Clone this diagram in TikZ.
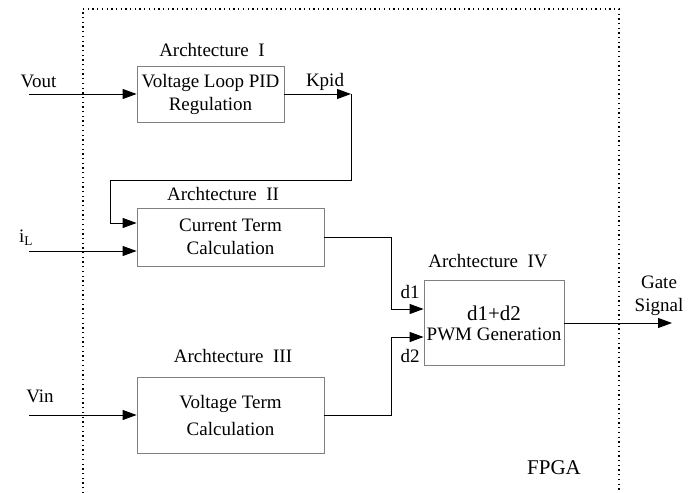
\documentclass[tikz,border=0pt]{standalone}
\usepackage{fontspec}
\setmainfont{Liberation Serif}
\usetikzlibrary{arrows.meta}
\begin{document}
\begin{tikzpicture}[x=1pt,y=-1pt,
  blk/.style={draw=black!50, line width=0.8pt, inner sep=0pt, align=center, font=\fontsize{19}{23}\selectfont},
  lbl/.style={inner sep=0pt, align=center, font=\fontsize{19}{22}\selectfont},
  arr/.style={-{Triangle[length=14pt,width=10pt]}, line width=1pt},
  frame/.style={dash pattern=on 1.3pt off 3.4pt, line width=1.3pt}]
\useasboundingbox (0,0) rectangle (697,493);
% frame
\coordinate (fbl) at (83,493);
\coordinate (ftl) at (83,9);
\coordinate (ftr) at (619,9);
\coordinate (fbr) at (619,493);
\draw[frame] (fbl) -- (ftl) -- (ftr) -- (fbr);
% blocks
\node[blk, minimum width=147pt, minimum height=56pt] (b1) at (210.5,94) {Voltage Loop PID\\Regulation};
\node[blk, minimum width=187pt, minimum height=58pt] (b2) at (230.5,237) {Current Term\\Calculation};
\node[blk, minimum width=187pt, minimum height=76pt, font=\fontsize{19}{27}\selectfont] (b3) at (230.5,415) {Voltage Term\\Calculation};
\node[blk, minimum width=140pt, minimum height=85pt] (b4) at (494,322.5) {};
\node[lbl, font=\fontsize{21}{22}\selectfont] (t4a) at (494,313) {d1+d2};
\node[lbl] (t4b) at (494,334) {PWM Generation};
% titles
\node[lbl] (a1) at (212,50) {Archtecture\enspace I};
\node[lbl] (a2) at (223,194) {Archtecture\enspace II};
\node[lbl] (a3) at (233,356) {Archtecture\enspace III};
\node[lbl] (a4) at (488,261) {Archtecture\enspace IV};
% labels
\node[lbl] (lv) at (38.5,81) {Vout};
\node[lbl] (lk) at (325,82) {Kpid};
\node[lbl] (li) at (26,238) {i\textsubscript{L}};
\node[lbl] (lvin) at (40,396) {Vin};
\node[lbl] (ld1) at (410,292) {d1};
\node[lbl] (ld2) at (410,356) {d2};
\node[lbl, font=\fontsize{19}{23}\selectfont] (lg) at (659,296) {Gate\\Signal};
\node[lbl, font=\fontsize{21}{22}\selectfont] (lf) at (554,468) {FPGA};
% inputs
\coordinate (vin1) at (29,94);
\coordinate (iin) at (29,251);
\coordinate (vin3) at (29,415);
\draw[arr] (vin1) -- (b1.west |- vin1);
\draw[arr] (iin) -- (b2.west |- iin);
\draw[arr] (vin3) -- (b3.west |- vin3);
% Kpid feedback
\coordinate (kp) at (351,94);
\coordinate (kr) at (351,180);
\coordinate (kl) at (110,180);
\coordinate (kd) at (110,223);
\draw[arr] (b1.east |- kp) -- (kp);
\draw[arr] (kp) -- (kr) -- (kl) -- (kd) -- (b2.west |- kd);
% d1, d2
\coordinate (o2) at (324,237);
\coordinate (j1a) at (391,237);
\coordinate (j1b) at (391,309);
\draw[arr] (o2) -- (j1a) -- (j1b) -- (b4.west |- j1b);
\coordinate (o3) at (324,415);
\coordinate (j2a) at (391,415);
\coordinate (j2b) at (391,337);
\draw[arr] (o3) -- (j2a) -- (j2b) -- (b4.west |- j2b);
% gate output
\coordinate (gout) at (672,323);
\draw[arr] (b4.east |- gout) -- (gout);
\end{tikzpicture}
\end{document}
